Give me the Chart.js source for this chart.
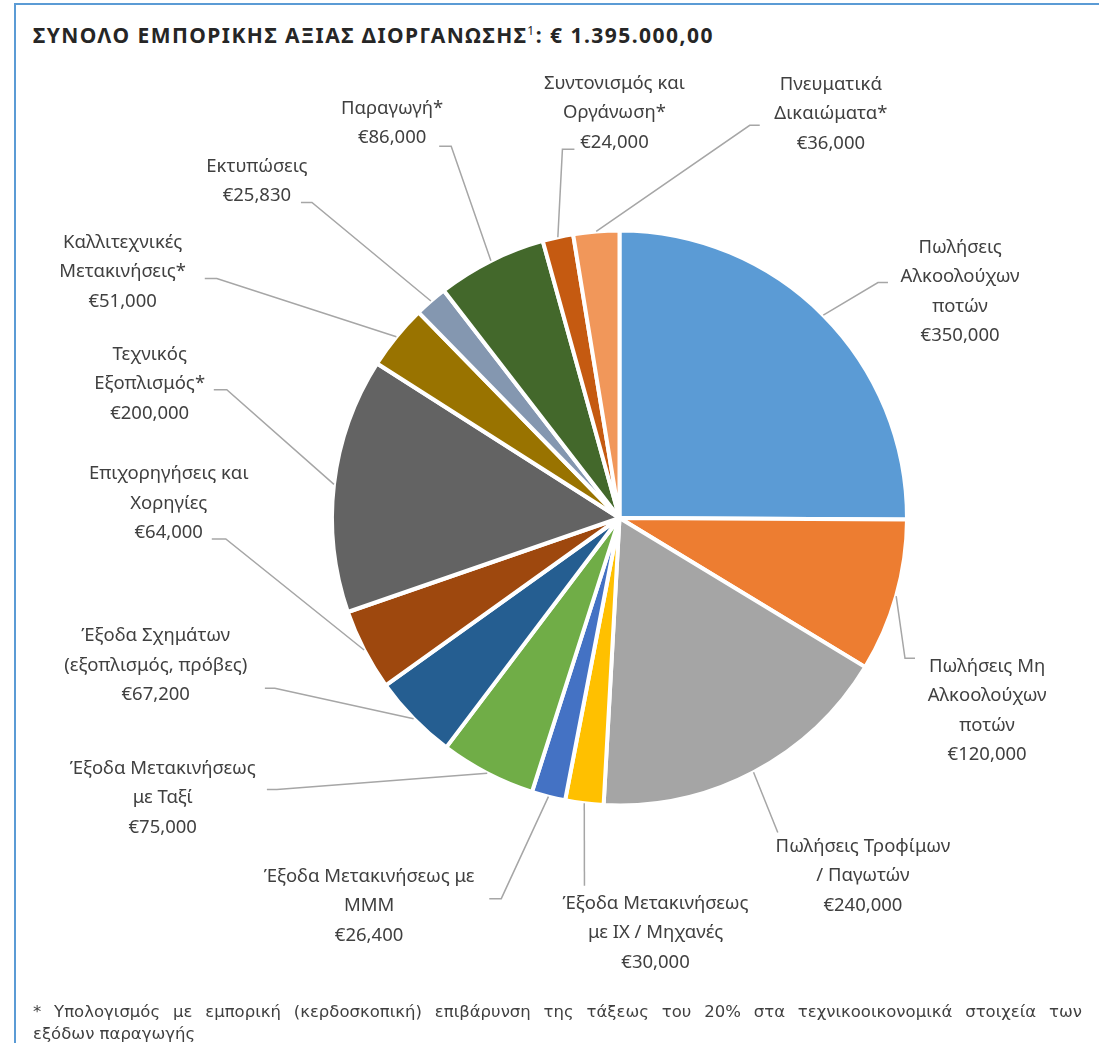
<!DOCTYPE html>
<html>
<head>
<meta charset="utf-8">
<script src="https://cdn.jsdelivr.net/npm/chart.js@4/dist/chart.umd.min.js"></script>
<style>
  html, body { margin: 0; padding: 0; background: #fff; }
  body { width: 1099px; height: 1043px; position: relative; overflow: hidden; }
  #frame { position: absolute; left: 14px; top: 3px; width: 1200px; height: 1100px;
           border: 2px solid #5B9BD5; box-sizing: border-box; }
  #title { position: absolute; left: 33px; top: 21px; font-family: "Noto Sans", sans-serif;
           font-weight: bold; font-size: 21px; color: #262626; white-space: nowrap; }
  #title sup { font-size: 12px; font-weight: normal; vertical-align: 8px; }
  #note { position: absolute; left: 33px; top: 1001px; width: 1049px; font-family: "DejaVu Sans", sans-serif;
          font-size: 16.5px; line-height: 22px; color: #404040; }
  #note .l1 { display: block; text-align: justify; text-align-last: justify; white-space: nowrap; }
  canvas { position: absolute; left: 0; top: 0; }
</style>
</head>
<body>
<div id="frame"></div>
<div id="title">ΣΥΝΟΛΟ ΕΜΠΟΡΙΚΗΣ ΑΞΙΑΣ ΔΙΟΡΓΑΝΩΣΗΣ<sup>1</sup>: € 1.395.000,00</div>
<canvas id="chart" width="1099" height="1043"></canvas>
<div id="note"><span class="l1">* Υπολογισμός με εμπορική (κερδοσκοπική) επιβάρυνση της τάξεως του 20% στα τεχνικοοικονομικά στοιχεία των</span>εξόδων παραγωγής</div>
<script>
// slices, clockwise from 12 o'clock
const categories = [
    ["Πωλήσεις", "Αλκοολούχων", "ποτών"],
    ["Πωλήσεις Μη", "Αλκοολούχων", "ποτών"],
    ["Πωλήσεις Τροφίμων", "/ Παγωτών"],
    ["Έξοδα Μετακινήσεως", "με ΙΧ / Μηχανές"],
    ["Έξοδα Μετακινήσεως με", "ΜΜΜ"],
    ["Έξοδα Μετακινήσεως", "με Ταξί"],
    ["Έξοδα Σχημάτων", "(εξοπλισμός, πρόβες)"],
    ["Επιχορηγήσεις και", "Χορηγίες"],
    ["Τεχνικός", "Εξοπλισμός*"],
    ["Καλλιτεχνικές", "Μετακινήσεις*"],
    ["Εκτυπώσεις"],
    ["Παραγωγή*"],
    ["Συντονισμός και", "Οργάνωση*"],
    ["Πνευματικά", "Δικαιώματα*"]
];
const values = [350000, 120000, 240000, 30000, 26400, 75000, 67200, 64000, 200000, 51000, 25830, 86000, 24000, 36000];
const colors = ["#5B9BD5", "#ED7D31", "#A5A5A5", "#FFC000", "#4472C4", "#70AD47", "#255E91",
                "#9E480E", "#636363", "#997300", "#8497B0", "#43682B", "#C55A11", "#F1975A"];

// label placement relative to pie centre (px at radius 287):
// t = centre of text block / first line, e = end of leader line, s = horizontal stub towards the slice
const labelSpots = [
    {t: [340, -270], e: [268, -235], s: -10},
    {t: [367, 148], e: [295, 140], s: -10},
    {t: [243, 328], e: [158, 314], s: 0},
    {t: [36, 385], e: [-35, 367], s: 0},
    {t: [-250, 358], e: [-130, 380], s: 12},
    {t: [-456, 250], e: [-352, 271], s: 10},
    {t: [-463, 118], e: [-354, 170], s: 10},
    {t: [-450, -44], e: [-407, 21], s: 14},
    {t: [-469, -163], e: [-405, -128], s: 13},
    {t: [-496, -275], e: [-414, -239], s: 12},
    {t: [-362, -351], e: [-318, -315], s: 11},
    {t: [-227, -409], e: [-180, -371], s: 12},
    {t: [-5, -434], e: [-45, -368], s: -12},
    {t: [211, -433], e: [140, -392], s: -10}
];

const fmt = v => "€" + v.toLocaleString("en-US");

// stretch the title to the width it has in the original (Century Gothic is wide)
const title = document.getElementById("title");
const titleChars = title.textContent.length;
title.style.letterSpacing = ((681 - title.getBoundingClientRect().width) / titleChars) + "px";

const leaderLabels = {
    id: "leaderLabels",
    afterDatasetsDraw(chart) {
        const ctx = chart.ctx;
        const meta = chart.getDatasetMeta(0);
        ctx.save();
        meta.data.forEach((arc, i) => {
            const p = arc.getProps(["x", "y", "startAngle", "endAngle", "outerRadius"], true);
            const mid = (p.startAngle + p.endAngle) / 2;
            const k = p.outerRadius / 287;
            const ax = p.x + Math.cos(mid) * p.outerRadius;
            const ay = p.y + Math.sin(mid) * p.outerRadius;
            const spot = labelSpots[i];
            const ex = p.x + spot.e[0] * k, ey = p.y + spot.e[1] * k;

            ctx.strokeStyle = "#A6A6A6";
            ctx.lineWidth = 1.5;
            ctx.beginPath();
            ctx.moveTo(ax, ay);
            ctx.lineTo(ex + spot.s, ey);
            ctx.lineTo(ex, ey);
            ctx.stroke();

            const lines = categories[i].concat([fmt(values[i])]);
            ctx.fillStyle = "#404040";
            ctx.font = "18.5px 'Noto Sans', sans-serif";
            ctx.textAlign = "center";
            ctx.textBaseline = "middle";
            const tx = p.x + spot.t[0] * k;
            let ty = p.y + spot.t[1] * k;
            lines.forEach(line => {
                ctx.fillText(line, tx, ty);
                ty += 29.5;
            });
        });
        ctx.restore();
    }
};

new Chart(document.getElementById("chart"), {
    type: "pie",
    data: {
        labels: categories.map(c => c.join(" ")),
        datasets: [{
            data: values,
            backgroundColor: colors,
            borderColor: "#ffffff",
            borderWidth: 4
        }]
    },
    options: {
        responsive: false,
        animation: false,
        layout: {padding: {left: 330, right: 190, top: 228, bottom: 235}},
        plugins: {
            legend: {display: false},
            tooltip: {enabled: false}
        }
    },
    plugins: [leaderLabels]
});
</script>
</body>
</html>
